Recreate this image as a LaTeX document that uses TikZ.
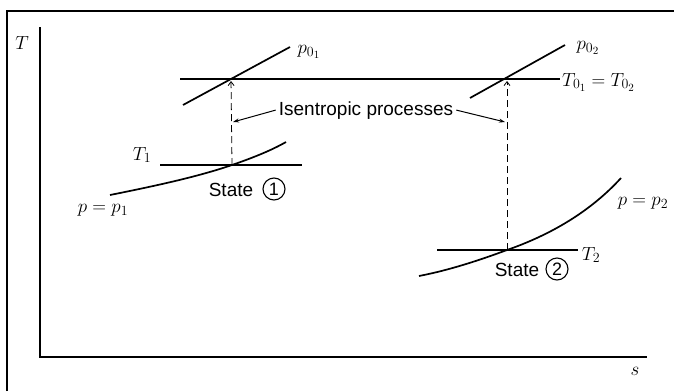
\RequirePackage{fix-cm}
\documentclass[tikz,border=0pt]{standalone}
\usepackage{fontspec}
\setsansfont{Liberation Sans}
\DeclareMathSizes{19}{19}{14}{11}
\usetikzlibrary{arrows.meta}
\tikzset{
  frame/.style={line width=1.5pt},
  axis/.style={line width=1.2pt},
  iso/.style={line width=1.2pt},
  curve/.style={line width=1.7pt},
  proc/.style={line width=0.8pt, dash pattern=on 7pt off 4pt, -{Straight Barb[length=4pt,width=6pt]}, shorten >=2pt},
  ptr/.style={line width=1pt, -{Stealth[length=6pt,width=4pt]}},
  lbl/.style={inner sep=0pt, font=\fontsize{19}{22}\selectfont},
  txt/.style={inner sep=0pt, font=\sffamily\fontsize{19}{22}\selectfont},
  num/.style={circle, draw, line width=1.1pt, inner sep=0pt, minimum size=22pt, font=\sffamily\fontsize{18}{21}\selectfont},
}
\begin{document}
\begin{tikzpicture}[x=1pt,y=-1pt]
\useasboundingbox (0,0) rectangle (674,391);
% frame
\draw[frame] (7,391) -- (7,11) -- (674,11);
% axes
\coordinate (ytop) at (40,27);
\coordinate (orig) at (40,357);
\coordinate (xend) at (647,357);
\draw[axis] (ytop) -- (orig) -- (xend);
\node[lbl] (Tax) at (22,43) {$T$};
\node[lbl] (sax) at (635,371) {$s$};
% key points
\coordinate (A) at (231,79);
\coordinate (B) at (507,79);
\coordinate (S1) at (232,165);
\coordinate (S2) at (507,250);
% top isotherm
\coordinate (t0l) at (180,79);
\coordinate (t0r) at (560,79);
\draw[iso] (t0l) -- (t0r);
\node[lbl, anchor=base west] (T0) at (562,86) {$T_{0_1} = T_{0_2}$};
% stagnation isobars
\coordinate (p1a) at (183,105);
\coordinate (p1b) at (290,47);
\draw[curve] (p1a) -- (p1b);
\node[lbl] (p01) at (309,52) {$p_{0_1}$};
\coordinate (p2a) at (470,98);
\coordinate (p2b) at (565,45);
\draw[curve] (p2a) -- (p2b);
\node[lbl] (p02) at (588,48) {$p_{0_2}$};
% T1 isotherm
\coordinate (t1l) at (160,165);
\coordinate (t1r) at (302,165);
\draw[iso] (t1l) -- (t1r);
\node[lbl] (T1) at (142,155) {$T_1$};
% T2 isotherm
\coordinate (t2l) at (437,250);
\coordinate (t2r) at (578,250);
\draw[iso] (t2l) -- (t2r);
\node[lbl] (T2) at (591,255) {$T_2$};
% static isobars
\coordinate (c1a) at (110,195);
\coordinate (c1b) at (286,142);
\draw[curve] (c1a) .. controls (160,185) and (200,176) .. (S1)
  .. controls (255,157) and (272,150) .. (c1b);
\node[lbl] (pp1) at (103,210) {$p = p_1$};
\coordinate (c2a) at (419,276);
\coordinate (c2b) at (621,178);
\draw[curve] (c2a) .. controls (450,270) and (480,260) .. (S2)
  .. controls (550,235) and (590,212) .. (c2b);
\node[lbl] (pp2) at (643,203) {$p = p_2$};
% states
\node[txt] (st1) at (231,190) {State};
\node[num] (n1) at (274,189) {1};
\node[txt] (st2) at (517,270) {State};
\node[num] (n2) at (557,269) {2};
% isentropic processes
\draw[proc] (S1) -- (A);
\draw[proc] (S2) -- (B);
\node[txt, anchor=base] (isen) at (366,115) {Isentropic processes};
\coordinate (h1) at (233,122);
\coordinate (h2) at (505,122);
\draw[ptr] ([xshift=-3pt]isen.west) -- (h1);
\draw[ptr] ([xshift=3pt]isen.east) -- (h2);
\end{tikzpicture}
\end{document}
